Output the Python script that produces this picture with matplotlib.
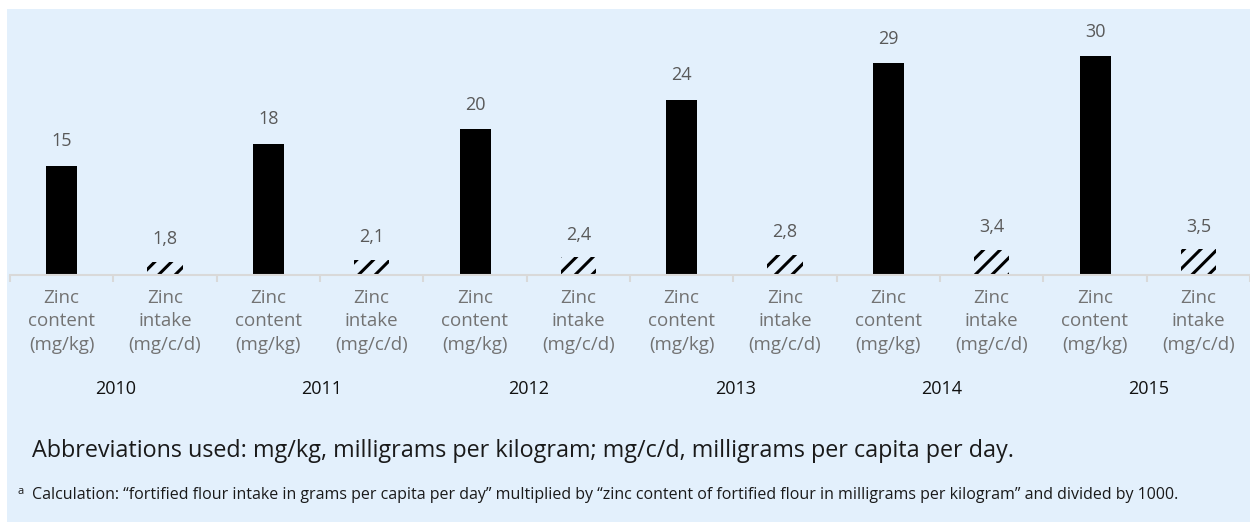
import numpy as np
import matplotlib
matplotlib.use('Agg')
import matplotlib.pyplot as plt
from matplotlib.patches import Rectangle
from matplotlib.transforms import blended_transform_factory

# data
years = ['2010', '2011', '2012', '2013', '2014', '2015']
content = [15, 18, 20, 24, 29, 30]
intake = [1.8, 2.1, 2.4, 2.8, 3.4, 3.5]
content_label = 'Zinc\ncontent\n(mg/kg)'
intake_label = 'Zinc\nintake\n(mg/c/d)'

bg = '#E3F0FC'
plt.rcParams['font.family'] = ['Open Sans', 'DejaVu Sans']
plt.rcParams['hatch.linewidth'] = 2.2
plt.rcParams['hatch.color'] = 'black'

fig = plt.figure(figsize=(12.5, 5.22), dpi=100)
fig.patch.set_facecolor('white')
W, H = 1250.0, 522.0
fig.add_artist(Rectangle((7 / W, 0), 1 - 7 / W, 1 - 9 / H, transform=fig.transFigure,
                         facecolor=bg, edgecolor='none', zorder=0))

# axes: baseline at y=275px from top, left edge x=10px
ax = fig.add_axes([10 / W, (H - 275) / H, 1 - 10 / W, (275 - 9) / H])
ax.set_facecolor('none')
slot = 104.0
ax.set_xlim(-0.5, -0.5 + (W - 10) / slot)
ax.set_ylim(0, 266 / 7.3)

x_content = np.arange(len(years)) * 2
x_intake = x_content + 1
ax.bar(x_content, content, width=0.3, color='black', zorder=2)
ax.bar(x_intake, intake, width=0.34, facecolor=bg, edgecolor='black', linewidth=0,
       hatch='//', zorder=2)

for x, v in zip(x_content, content):
    ax.annotate(str(v), (x, v), xytext=(0, 17.5), textcoords='offset points',
                ha='center', va='center', fontsize=13, color='#595959')
for x, v in zip(x_intake, intake):
    ax.annotate(('%.1f' % v).replace('.', ','), (x, v), xytext=(0, 16.5),
                textcoords='offset points', ha='center', va='center',
                fontsize=13, color='#595959')

for s in ['top', 'right', 'left']:
    ax.spines[s].set_visible(False)
ax.spines['bottom'].set_color('#D9D9D9')
ax.spines['bottom'].set_linewidth(1.5)
ax.set_yticks([])

pos = np.arange(len(years) * 2)
ax.set_xticks(pos)
ax.set_xticklabels([content_label, intake_label] * len(years), fontsize=13.5,
                   color='#737373', linespacing=1.4)
ax.tick_params(axis='x', which='major', length=0, pad=10)
ax.set_xticks(np.arange(len(years) * 2 + 1) - 0.5, minor=True)
ax.tick_params(axis='x', which='minor', length=5, width=1.5, color='#D9D9D9')

tr = blended_transform_factory(ax.transData, fig.transFigure)
for i, yr in enumerate(years):
    fig.text(x_content[i] + 0.52, (H - 389) / H, yr, transform=tr,
             fontsize=13, color='#111111', ha='center', va='center')

fig.text(32 / W, (H - 451) / H,
         'Abbreviations used: mg/kg, milligrams per kilogram; mg/c/d, milligrams per capita per day.',
         fontsize=16.8, color='#1a1a1a', ha='left', va='center')
fig.text(17 / W, (H - 491) / H, 'a', fontsize=8, color='#1a1a1a', ha='left', va='center')
fig.text(32 / W, (H - 495) / H,
         'Calculation: \u201cfortified flour intake in grams per capita per day\u201d multiplied by '
         '\u201czinc content of fortified flour in milligrams per kilogram\u201d and divided by 1000.',
         fontsize=11.5, color='#1a1a1a', ha='left', va='center')

fig.savefig('out.png', dpi=100, facecolor=fig.get_facecolor())
